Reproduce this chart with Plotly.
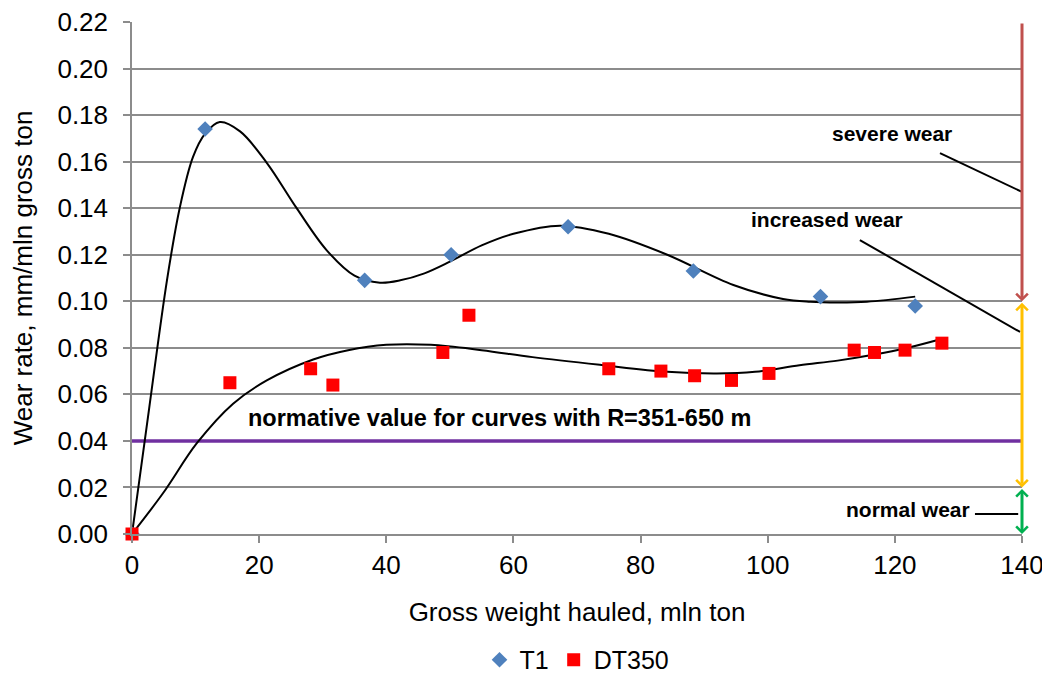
import plotly.graph_objects as go

# ---- data ----
t1_x = [0, 11.5, 36.6, 50.2, 68.6, 88.3, 108.3, 123.2]
t1_y = [0, 0.174, 0.109, 0.120, 0.132, 0.113, 0.102, 0.098]

dt_x = [0, 15.4, 28.1, 31.6, 48.9, 53.0, 75.0, 83.2, 88.5, 94.3, 100.2, 113.6, 116.8, 121.6, 127.4]
dt_y = [0, 0.065, 0.071, 0.064, 0.078, 0.094, 0.071, 0.070, 0.068, 0.066, 0.069, 0.079, 0.078, 0.079, 0.082]

# smooth trend curves (knots)
t1_fit_x = [0, 2.7, 5.5, 7.5, 9.6, 11.5, 13.8, 17, 21.2, 25.9, 30.6, 35, 39, 42.2, 46, 50, 55, 60,
            67.3, 75, 84.2, 94.6, 102.4, 106.7, 111, 115.6, 123.2]
t1_fit_y = [0, 0.054, 0.109, 0.140, 0.162, 0.172, 0.177, 0.173, 0.1595, 0.140, 0.122, 0.111, 0.108,
            0.109, 0.112, 0.117, 0.124, 0.129, 0.1325, 0.129, 0.120, 0.107, 0.101, 0.0998, 0.0995,
            0.0998, 0.102]

dt_fit_x = [0, 4.9, 10.2, 15.9, 21.2, 28.5, 34, 40, 47, 55, 63, 73.6, 84.2, 92, 98, 105, 111,
            116.6, 122, 127.6]
dt_fit_y = [0, 0.0176, 0.039, 0.056, 0.066, 0.075, 0.079, 0.0813, 0.0813, 0.079, 0.076, 0.0727,
            0.0697, 0.069, 0.0697, 0.0725, 0.0745, 0.077, 0.080, 0.084]

normative_x = [0, 140]
normative_y = [0.04, 0.04]

zone_x = 140
zone_edges = [0.0, 0.02, 0.10, 0.22]   # normal / increased / severe

x_ticks = [0, 20, 40, 60, 80, 100, 120, 140]
y_ticks = [0.00, 0.02, 0.04, 0.06, 0.08, 0.10, 0.12, 0.14, 0.16, 0.18, 0.20, 0.22]

FONT = "Liberation Sans, Arial, sans-serif"
GRID = "#8C8C8C"

fig = go.Figure()

fig.add_trace(go.Scatter(x=normative_x, y=normative_y, mode="lines",
                         line=dict(color="#7030A0", width=3.5), showlegend=False,
                         hoverinfo="skip"))
fig.add_trace(go.Scatter(x=t1_fit_x, y=t1_fit_y, mode="lines",
                         line=dict(color="black", width=2, shape="spline", smoothing=1.0),
                         showlegend=False, hoverinfo="skip"))
fig.add_trace(go.Scatter(x=dt_fit_x, y=dt_fit_y, mode="lines",
                         line=dict(color="black", width=2, shape="spline", smoothing=1.0),
                         showlegend=False, hoverinfo="skip"))
fig.add_trace(go.Scatter(x=t1_x, y=t1_y, mode="markers", name="T1",
                         marker=dict(symbol="diamond", size=12, color="#4F81BD")))
fig.add_trace(go.Scatter(x=dt_x, y=dt_y, mode="markers", name="DT350",
                         marker=dict(symbol="square", size=13, color="#FF0000")))

# zone arrows at the right edge
arrow_common = dict(xref="x", yref="y", axref="x", ayref="y", text="", showarrow=True,
                    arrowhead=4, arrowsize=0.75, arrowwidth=3, standoff=0, startstandoff=0)
fig.add_annotation(x=zone_x, y=zone_edges[2], ax=zone_x, ay=zone_edges[3],
                   arrowcolor="#C0504D", arrowside="end", **arrow_common)
fig.add_annotation(x=zone_x, y=zone_edges[1], ax=zone_x, ay=zone_edges[2],
                   arrowcolor="#FFC000", arrowside="end+start", **arrow_common)
fig.add_annotation(x=zone_x, y=zone_edges[0], ax=zone_x, ay=zone_edges[1],
                   arrowcolor="#00B050", arrowside="end+start", **arrow_common)

# labels
lab_font = dict(family=FONT, size=21, color="black")
fig.add_annotation(x=119.6, y=0.1723, xref="x", yref="y", text="<b>severe wear</b>",
                   showarrow=False, font=lab_font)
fig.add_annotation(x=109.3, y=0.135, xref="x", yref="y", text="<b>increased wear</b>",
                   showarrow=False, font=lab_font)
fig.add_annotation(x=122.1, y=0.0107, xref="x", yref="y", text="<b>normal wear</b>",
                   showarrow=False, font=lab_font)
fig.add_annotation(x=17.9, y=0.0499, xref="x", yref="y", xanchor="left",
                   text="<b>normative value for curves with R=351-650 m</b>",
                   showarrow=False, font=dict(family=FONT, size=23.5, color="black"))

# leader lines
lead = dict(type="line", xref="x", yref="y", line=dict(color="black", width=2))
fig.add_shape(x0=127.1, y0=0.1637, x1=140, y1=0.147, **lead)
fig.add_shape(x0=114.5, y0=0.1263, x1=139.7, y1=0.0868, **lead)
fig.add_shape(x0=132.6, y0=0.0086, x1=139.4, y1=0.0086, **lead)

fig.update_traces(cliponaxis=False)

fig.update_layout(
    width=1050, height=675,
    margin=dict(l=124, r=36, t=14, b=149, autoexpand=False),
    paper_bgcolor="white", plot_bgcolor="white",
    font=dict(family=FONT, size=26, color="black"),
    showlegend=True,
    legend=dict(orientation="h", x=0.5, xanchor="center", y=-0.246, yanchor="middle",
                font=dict(family=FONT, size=25), itemwidth=30, tracegroupgap=0),
    xaxis=dict(range=[0, 140], tickvals=x_ticks, showgrid=False, zeroline=False,
               showline=True, linecolor=GRID, linewidth=1.5, automargin=False,
               ticks="outside", ticklen=7, tickcolor=GRID, tickwidth=1.5,
               ticklabeloverflow="allow",
               tickfont=dict(family=FONT, size=26),
               title=dict(text="Gross weight hauled, mln ton", standoff=24,
                          font=dict(family=FONT, size=26))),
    yaxis=dict(range=[0, 0.22 + 1e-6], tickvals=y_ticks, tickformat=".2f", automargin=False,
               showgrid=True, gridcolor=GRID, gridwidth=1.5, zeroline=False,
               showline=True, linecolor=GRID, linewidth=1.5,
               ticks="outside", ticklen=7, tickcolor=GRID, tickwidth=1.5,
               ticklabeloverflow="allow",
               tickfont=dict(family=FONT, size=26), ticklabelstandoff=10,
               title=dict(text="Wear rate, mm/mln gross ton", standoff=25,
                          font=dict(family=FONT, size=26))),
)

fig.write_html("out.html")
